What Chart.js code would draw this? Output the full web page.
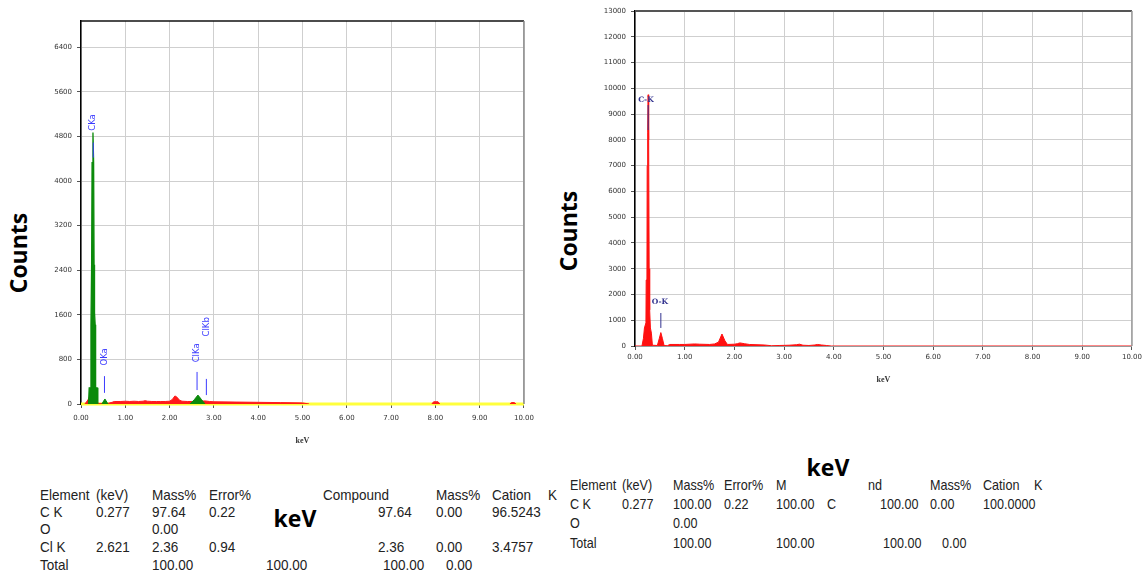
<!DOCTYPE html>
<html>
<head>
<meta charset="utf-8">
<script src="https://cdn.jsdelivr.net/npm/chart.js@4.4.0/dist/chart.umd.min.js"></script>
<style>
  html,body{margin:0;padding:0;background:#fff;}
  body{width:1145px;height:572px;position:relative;overflow:hidden;font-family:"Liberation Sans",Arial,sans-serif;}
  canvas{position:absolute;}
  .big{position:absolute;font-family:"Open Sans","Liberation Sans",sans-serif;font-weight:bold;font-size:23px;color:#000;white-space:nowrap;line-height:1;}
  .rot{transform:translate(-50%,-50%) rotate(-90deg);}
  .ctr{transform:translate(-50%,-50%);}
  .t{position:absolute;font-size:15px;color:#222;white-space:nowrap;line-height:1;transform:translateY(-50%) scaleX(0.9);transform-origin:0 50%;}
  .t.r{transform:translateY(-50%) scaleX(0.84);}
</style>
</head>
<body>
<canvas id="left" width="500" height="455" style="left:40px;top:0px;"></canvas>
<canvas id="right" width="555" height="395" style="left:590px;top:0px;"></canvas>
<div class="big rot" style="left:18px;top:253px;">Counts</div>
<div class="big rot" style="left:568px;top:231px;">Counts</div>
<div id="tables"></div>
<div class="big ctr" style="left:295px;top:518px;">keV</div>
<div class="big ctr" style="left:828px;top:467px;">keV</div>
<script>
// ---------- DATA ----------
const xTickValues = [0,1,2,3,4,5,6,7,8,9,10];
const xTickLabels = ['0.00','1.00','2.00','3.00','4.00','5.00','6.00','7.00','8.00','9.00','10.00'];
const leftYTicks = [0,800,1600,2400,3200,4000,4800,5600,6400];
const rightYTicks = [0,1000,2000,3000,4000,5000,6000,7000,8000,9000,10000,11000,12000,13000];

// Left spectrum (background, red); null = gap
const leftEnergy = [0.08,0.12,0.16,0.19,0.22,0.35,0.40,0.60,0.70,0.75,0.90,1.00,1.10,1.20,1.30,1.40,1.45,1.50,1.60,1.70,1.80,1.90,2.00,2.06,2.12,2.17,2.22,2.28,2.40,2.60,2.80,2.90,3.00,3.50,4.00,4.50,5.00,5.15,5.50,7.92,7.96,8.06,8.10,9.00,9.68,9.72,9.78,9.82];
const leftCounts = [0,30,80,130,60,40,10,10,30,45,45,50,45,50,45,50,60,50,45,45,45,45,50,80,145,120,70,50,45,45,55,45,40,35,30,25,20,0,null,0,40,40,0,null,0,25,25,0];
// Left identified peaks (green)
const cPeakEnergy = [0.17,0.185,0.215,0.225,0.24,0.25,0.27,0.285,0.295,0.305,0.32,0.33,0.365,0.38];
const cPeakCounts = [0,290,290,1420,2500,4330,4870,4330,2500,1640,1420,290,290,0];
const oPeakEnergy = [0.47,0.54,0.61];
const oPeakCounts = [0,90,0];
const clPeakEnergy = [2.46,2.56,2.64,2.72,2.80];
const clPeakCounts = [0,80,160,80,0];
// Left peak markers
const leftMarkerNames = ['CKa','OKa','ClKa','ClKb'];
const leftMarkerEnergy = [0.277,0.53,2.62,2.83];
const leftMarkerFrom = [4420,200,250,160];
const leftMarkerTo = [4690,500,575,450];
const leftMarkerText = [5050,845,917,1384];

// Right spectrum (red)
const rightEnergy = [0.00,0.10,0.14,0.17,0.19,0.22,0.225,0.24,0.245,0.255,0.265,0.27,0.28,0.285,0.295,0.31,0.33,0.35,0.45,0.49,0.52,0.55,0.585,0.65,0.70,0.90,1.00,1.20,1.30,1.50,1.60,1.68,1.75,1.81,1.86,2.00,2.06,2.11,2.20,2.30,2.60,2.75,2.90,3.10,3.25,3.31,3.38,3.50,3.62,3.67,3.75,3.85,3.95,10.00];
const rightCounts = [0,0,0,300,700,900,2560,2600,7000,8300,9750,8300,8000,3000,1400,700,500,30,20,300,520,300,20,10,60,60,60,80,70,60,80,150,465,200,60,70,90,120,90,60,40,10,20,30,50,70,30,20,40,60,40,20,0,0];
const rightMarkerNames = ['C-K','O-K'];
const rightMarkerEnergy = [0.265,0.52];
const rightMarkerFrom = [8380,700];
const rightMarkerTo = [9350,1280];
const rightMarkerTextX = [0.22,0.50];
const rightMarkerTextY = [9550,1707];

// Tables
const leftTable = [
  [40,494,'Element'],[96,494,'(keV)'],[152,494,'Mass%'],[209,494,'Error%'],[323,494,'Compound'],[436,494,'Mass%'],[492,494,'Cation'],[548,494,'K'],
  [40,511,'C  K'],[96,511,'0.277'],[152,511,'97.64'],[209,511,'0.22'],[378,511,'97.64'],[436,511,'0.00'],[492,511,'96.5243'],
  [40,528,'O'],[152,528,'0.00'],
  [40,546,'Cl K'],[96,546,'2.621'],[152,546,'2.36'],[209,546,'0.94'],[378,546,'2.36'],[436,546,'0.00'],[492,546,'3.4757'],
  [40,564,'Total'],[152,564,'100.00'],[266,564,'100.00'],[383,564,'100.00'],[446,564,'0.00']
];
const rightTable = [
  [570,484,'Element'],[622,484,'(keV)'],[673,484,'Mass%'],[724,484,'Error%'],[776,484,'M'],[868,484,'nd'],[930,484,'Mass%'],[983,484,'Cation'],[1034,484,'K'],
  [570,503,'C  K'],[622,503,'0.277'],[673,503,'100.00'],[724,503,'0.22'],[776,503,'100.00'],[827,503,'C'],[880,503,'100.00'],[930,503,'0.00'],[983,503,'100.0000'],
  [570,522,'O'],[673,522,'0.00'],
  [570,542,'Total'],[673,542,'100.00'],[776,542,'100.00'],[883,542,'100.00'],[942,542,'0.00']
];

// ---------- BUILD ----------
const tbl = document.getElementById('tables');
const addCells = (rows, cls)=>rows.forEach(([x,y,s])=>{
  const d=document.createElement('div'); d.className=cls; d.style.left=x+'px'; d.style.top=y+'px'; d.textContent=s; tbl.appendChild(d);
});
addCells(leftTable,'t');
addCells(rightTable,'t r');

const pts = (xs,ys)=>xs.map((x,i)=>({x:x,y:ys[i]}));

function borderPlugin(topColor, topW, rightColor){
  return {
    id:'box',
    afterDraw(chart){
      const {ctx, chartArea:a} = chart;
      ctx.save();
      ctx.strokeStyle=topColor; ctx.lineWidth=topW;
      ctx.beginPath(); ctx.moveTo(a.left, a.top); ctx.lineTo(a.right, a.top); ctx.stroke();
      ctx.strokeStyle=rightColor; ctx.lineWidth=1.5;
      ctx.beginPath(); ctx.moveTo(a.right, a.top); ctx.lineTo(a.right, a.bottom); ctx.stroke();
      ctx.restore();
    }
  };
}

function labelPlugin(names, xs, ys, color, font, rotate){
  return {
    id:'peakLabels',
    afterDatasetsDraw(chart){
      const {ctx, scales} = chart;
      ctx.save();
      ctx.fillStyle=color; ctx.font=font; ctx.textAlign='center'; ctx.textBaseline='middle';
      names.forEach((n,i)=>{
        const px=scales.x.getPixelForValue(xs[i]), py=scales.y.getPixelForValue(ys[i]);
        ctx.save(); ctx.translate(px,py); if(rotate) ctx.rotate(-Math.PI/2);
        ctx.fillText(n,0,0); ctx.restore();
      });
      ctx.restore();
    }
  };
}

function scales(yTicks, yMax, yWidth, xHeight, tickFont, tickPad, titlePad){
  return {
    x:{type:'linear', min:0, max:10,
       afterBuildTicks:s=>{s.ticks=xTickValues.map(v=>({value:v}));},
       afterFit:s=>{s.height=xHeight;},
       ticks:{callback:(v)=>xTickLabels[xTickValues.indexOf(v)], color:'#333', font:tickFont, padding:tickPad, maxRotation:0, autoSkip:false},
       grid:{color:'#cfcfcf', lineWidth:1, tickLength:4, tickColor:'#555'},
       border:{color:'#999', width:1},
       title:{display:true, text:'keV', color:'#333', font:{family:'Liberation Serif', size:8, weight:'bold'}, padding:titlePad}
    },
    y:{type:'linear', min:0, max:yMax,
       afterBuildTicks:s=>{s.ticks=yTicks.map(v=>({value:v}));},
       afterFit:s=>{s.width=yWidth;},
       ticks:{callback:(v)=>String(v), color:'#333', font:tickFont, padding:5, autoSkip:false},
       grid:{color:'#cfcfcf', lineWidth:1, tickLength:4, tickColor:'#555'},
       border:{color:'#000', width:1.5}
    }
  };
}

const lineDs = (data,color,w,order,fill,extra)=>Object.assign({data, borderColor:color, backgroundColor:color, borderWidth:w, pointRadius:0, fill:fill?'origin':false, tension:0, spanGaps:false, order}, extra||{});

// Left chart
const leftDatasets = [
  lineDs(pts([0,10],[0,0]),'#ffff3c',3,10,false,{clip:false}),
  lineDs(pts(leftEnergy,leftCounts),'#ff1a1a',1,5,true),
  lineDs(pts(cPeakEnergy,cPeakCounts),'#0b8a0b',1.3,2,true),
  lineDs(pts(oPeakEnergy,oPeakCounts),'#0b8a0b',1,2,true),
  lineDs(pts(clPeakEnergy,clPeakCounts),'#0b8a0b',1,2,true)
];
leftMarkerNames.forEach((n,i)=>{
  leftDatasets.push(lineDs(pts([leftMarkerEnergy[i],leftMarkerEnergy[i]],[leftMarkerFrom[i],leftMarkerTo[i]]),'#3b3bff',1,1,false));
});

new Chart(document.getElementById('left'),{
  type:'line',
  data:{datasets:leftDatasets},
  options:{
    responsive:false, animation:false,
    layout:{padding:{top:21,right:13,left:0,bottom:0}},
    plugins:{legend:{display:false}, tooltip:{enabled:false}},
    scales:scales(leftYTicks, 6870, 41, 51, {family:'DejaVu Sans', size:7}, 6, {top:4,bottom:9})
  },
  plugins:[borderPlugin('#111',1.5,'#888'), labelPlugin(leftMarkerNames, leftMarkerEnergy, leftMarkerText, '#3b3bff', '8.5px "DejaVu Sans"', true)]
});

// Right chart
const rightDatasets = [
  lineDs(pts(rightEnergy,rightCounts),'#ff1010',1,5,true)
];
rightMarkerNames.forEach((n,i)=>{
  rightDatasets.push(lineDs(pts([rightMarkerEnergy[i],rightMarkerEnergy[i]],[rightMarkerFrom[i],rightMarkerTo[i]]),'#33338f',1,1,false));
});

new Chart(document.getElementById('right'),{
  type:'line',
  data:{datasets:rightDatasets},
  options:{
    responsive:false, animation:false,
    layout:{padding:{top:11,right:12,left:0,bottom:0}},
    plugins:{legend:{display:false}, tooltip:{enabled:false}},
    scales:scales(rightYTicks, 13000, 45, 49, {family:'DejaVu Sans', size:7}, 3, {top:4,bottom:10})
  },
  plugins:[borderPlugin('#555',2,'#999'), labelPlugin(rightMarkerNames, rightMarkerTextX, rightMarkerTextY, '#33338f', 'bold 7.5px "DejaVu Serif"', false)]
});
</script>
</body>
</html>
